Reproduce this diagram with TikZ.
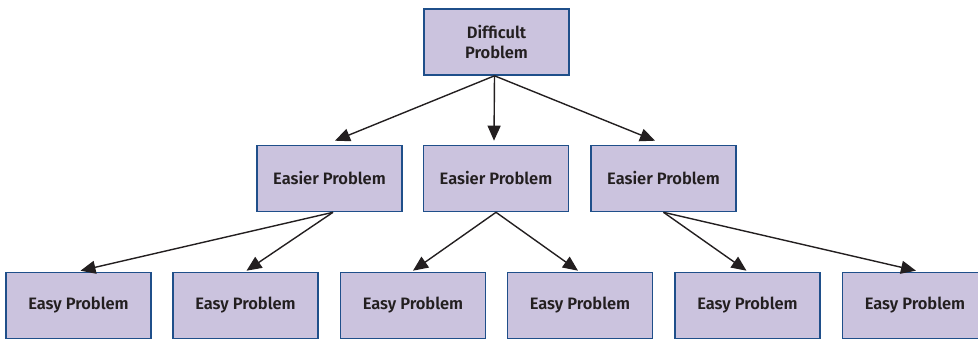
\documentclass[tikz,border=0pt]{standalone}
\usepackage{fontspec}
\setmainfont{Fira Sans}[BoldFont={Fira Sans SemiBold}]
\usetikzlibrary{arrows.meta,calc}
\definecolor{boxfill}{HTML}{CBC3DE}
\definecolor{boxline}{HTML}{1F4F8A}
\definecolor{inkgray}{HTML}{231F20}
\tikzset{
  probbox/.style={draw=boxline, line width=1.6pt, fill=boxfill,
    minimum width=145pt, minimum height=66pt, inner sep=0pt,
    align=center, text=inkgray, font=\bfseries\fontsize{16.5}{20.5}\selectfont},
  link/.style={draw=inkgray, line width=1.4pt,
    -{Triangle[length=15pt,width=13pt]}}
}
\begin{document}
\begin{tikzpicture}[x=1pt,y=-1pt]
\useasboundingbox (0,0) rectangle (978,340);
% root
\node[probbox] (top) at (496.5,42) {Difficult\\Problem};
% second level
\node[probbox] (m1) at (329.5,178.5) {Easier Problem};
\node[probbox] (m2) at (496,178.5) {Easier Problem};
\node[probbox] (m3) at (663.5,178.5) {Easier Problem};
% leaves
\node[probbox] (b1) at (78.5,305.5) {Easy Problem};
\node[probbox] (b2) at (245.5,305.5) {Easy Problem};
\node[probbox] (b3) at (413,305.5) {Easy Problem};
\node[probbox] (b4) at (580,305.5) {Easy Problem};
\node[probbox] (b5) at (747.5,305.5) {Easy Problem};
\node[probbox] (b6) at (915,305.5) {Easy Problem};
% arrows from the root
\draw[link] ($(top.south)+(-2,0)$) -- ($(m1.north)+(5.5,-4)$);
\draw[link] ($(top.south)+(-2,0)$) -- ($(m2.north)+(-2,-4)$);
\draw[link] ($(top.south)+(-2,0)$) -- ($(m3.north)+(-8.5,-4)$);
% arrows to the leaves
\draw[link] ($(m1.south)+(3.5,0)$) -- ($(b1.north)+(2,-1)$);
\draw[link] ($(m1.south)+(3.5,0)$) -- ($(b2.north)+(1,-1)$);
\draw[link] (m2.south) -- ($(b3.north)+(0,-1)$);
\draw[link] (m2.south) -- ($(b4.north)+(-2,-1)$);
\draw[link] (m3.south) -- ($(b5.north)+(-1,-1)$);
\draw[link] (m3.south) -- ($(b6.north)+(1,-1)$);
\end{tikzpicture}
\end{document}
